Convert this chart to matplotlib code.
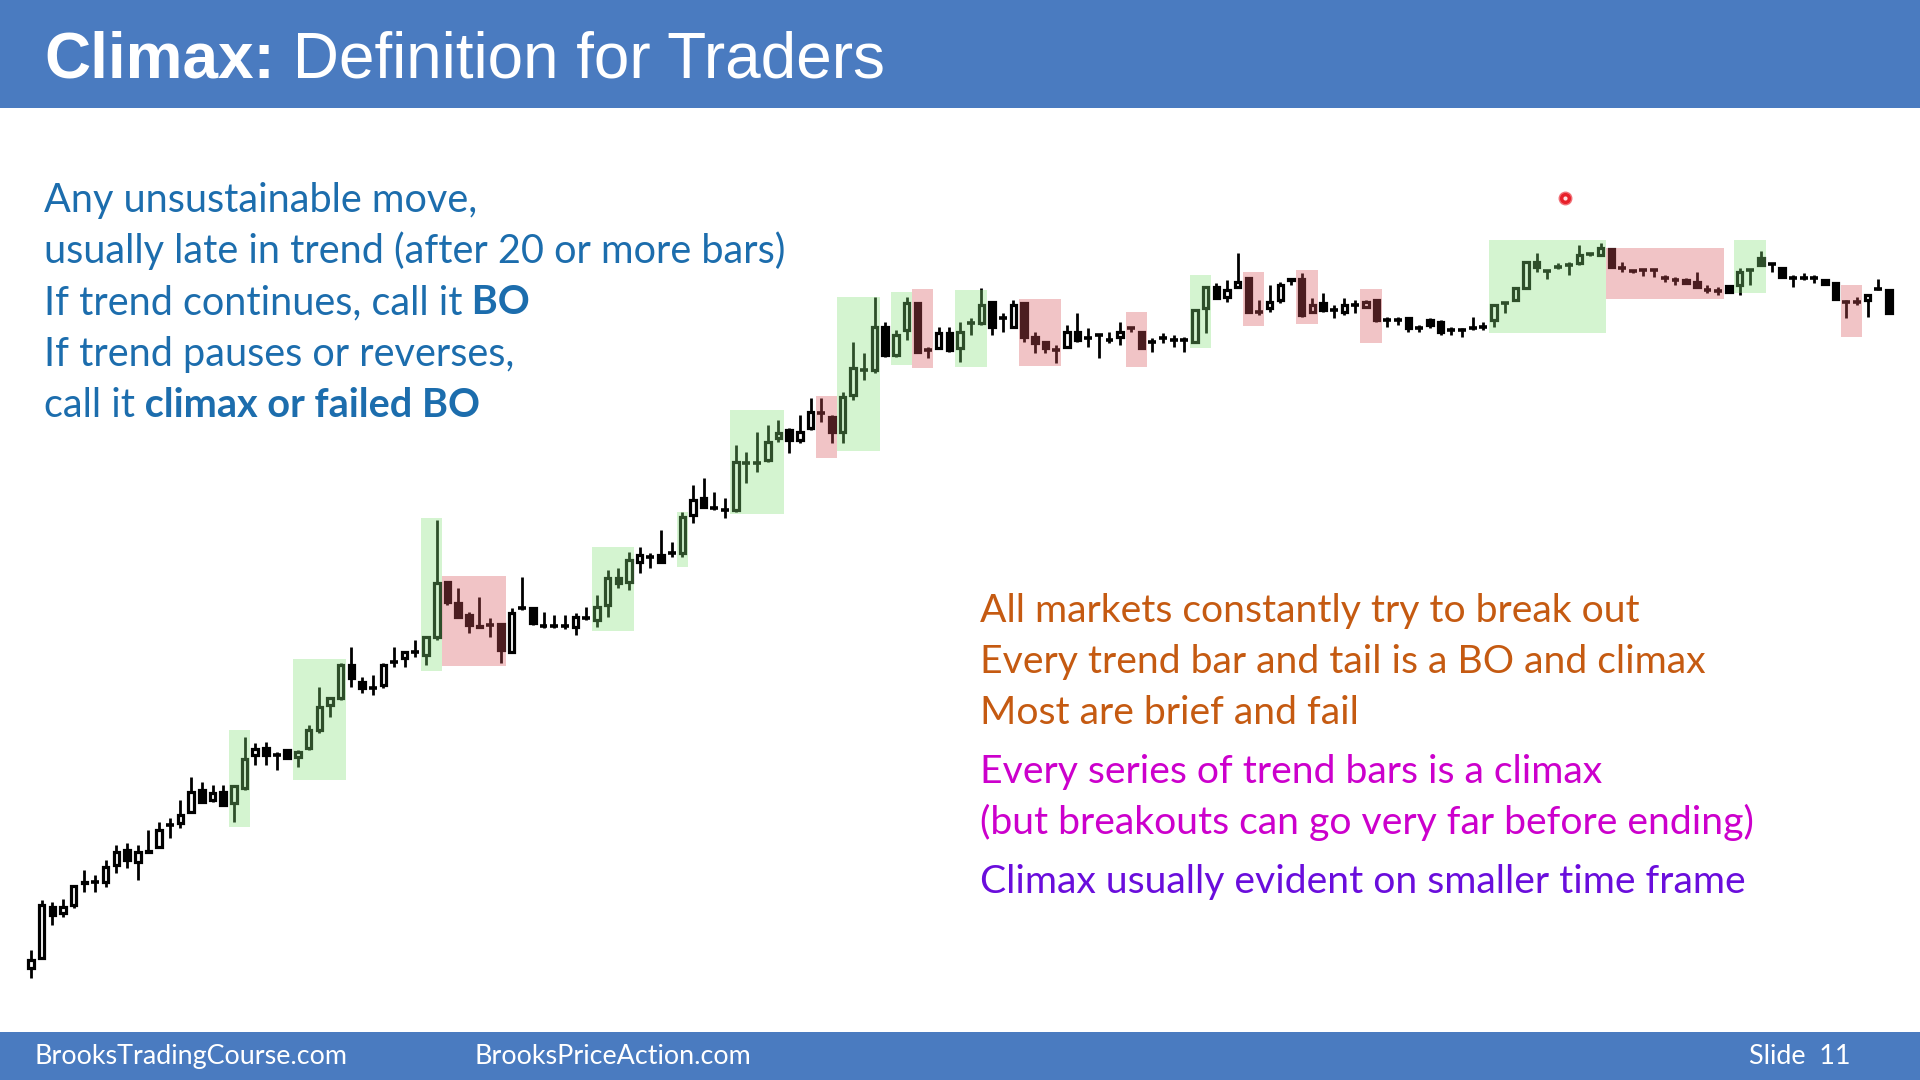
import numpy as np
import matplotlib.pyplot as plt
from matplotlib.patches import Rectangle

# OHLC values (one entry per bar, left to right)
opens = [32, 42, 93, 87, 95, 117, 118, 118, 135, 150,
         138, 148, 153, 175, 177, 188, 210, 200, 208, 197,
         212, 245, 252, 245, 250, 243, 252, 270, 295, 302,
         335, 318, 312, 315, 338, 342, 348, 345, 363, 418,
         397, 385, 374, 375, 376, 348, 392, 392, 374, 374,
         374, 373, 382, 380, 395, 422, 418, 438, 443, 445,
         447, 447, 485, 502, 492, 490, 490, 537, 537, 540,
         562, 570, 560, 572, 587, 583, 568, 605, 630, 630,
         673, 645, 670, 697, 650, 652, 667, 652, 677, 677,
         698, 682, 673, 697, 663, 658, 650, 653, 668, 662,
         665, 660, 663, 672, 668, 658, 662, 660, 660, 658,
         692, 713, 703, 713, 722, 688, 692, 700, 721, 721,
         688, 697, 690, 688, 695, 693, 700, 680, 680, 682,
         672, 680, 678, 670, 670, 672, 673, 680, 697, 700,
         712, 738, 729, 733, 735, 737, 746, 745, 751, 732,
         729, 730, 730, 722, 720, 720, 718, 710, 709, 714,
         715, 730, 742, 736, 732, 722, 722, 722, 720, 717,
         698, 698, 700, 711, 710]
highs = [50, 100, 98, 101, 115, 130, 125, 140, 155, 157,
         155, 170, 178, 182, 200, 223, 218, 215, 215, 215,
         263, 257, 258, 248, 250, 250, 275, 313, 302, 337,
         353, 323, 325, 337, 353, 348, 360, 363, 480, 418,
         412, 388, 403, 382, 376, 392, 423, 392, 388, 385,
         385, 387, 393, 405, 430, 432, 448, 453, 447, 470,
         458, 488, 515, 522, 508, 502, 555, 548, 568, 575,
         580, 572, 585, 602, 602, 585, 608, 658, 647, 703,
         678, 670, 703, 697, 653, 673, 673, 678, 682, 712,
         698, 687, 700, 697, 668, 658, 655, 675, 687, 672,
         665, 668, 678, 673, 668, 662, 667, 665, 663, 690,
         713, 717, 720, 747, 722, 700, 715, 718, 721, 727,
         702, 707, 695, 702, 700, 700, 700, 683, 683, 683,
         675, 682, 680, 673, 672, 683, 678, 695, 697, 713,
         738, 747, 729, 737, 738, 755, 747, 757, 751, 738,
         730, 730, 730, 725, 723, 722, 728, 715, 713, 714,
         732, 731, 749, 737, 732, 725, 727, 725, 721, 718,
         700, 703, 705, 721, 710]
lows = [22, 42, 75, 83, 92, 108, 108, 113, 127, 132,
        120, 148, 153, 162, 172, 188, 198, 198, 195, 178,
        210, 235, 235, 230, 242, 233, 250, 267, 283, 300,
        313, 307, 305, 312, 333, 333, 343, 335, 360, 395,
        383, 367, 372, 363, 337, 347, 390, 375, 372, 372,
        371, 365, 380, 373, 383, 412, 410, 427, 432, 438,
        443, 443, 477, 492, 490, 482, 488, 517, 528, 538,
        558, 547, 557, 570, 578, 557, 557, 600, 620, 627,
        643, 643, 660, 648, 642, 652, 648, 638, 665, 675,
        665, 668, 672, 658, 647, 647, 637, 652, 658, 653,
        642, 657, 655, 668, 652, 648, 657, 653, 648, 657,
        667, 702, 698, 712, 688, 685, 688, 697, 715, 683,
        687, 688, 682, 685, 687, 692, 678, 673, 675, 668,
        668, 672, 665, 665, 663, 670, 670, 673, 687, 700,
        712, 728, 721, 731, 725, 735, 744, 744, 733, 728,
        727, 724, 723, 718, 715, 716, 712, 707, 705, 707,
        705, 715, 735, 728, 723, 713, 720, 717, 715, 701,
        682, 695, 683, 710, 687]
closes = [40, 95, 85, 93, 114, 118, 118, 133, 148, 140,
          148, 149, 170, 175, 185, 208, 198, 207, 195, 214,
          241, 251, 245, 245, 242, 248, 270, 293, 302, 335,
          322, 312, 312, 335, 338, 348, 348, 363, 417, 398,
          383, 375, 373, 375, 350, 387, 392, 377, 374, 374,
          374, 383, 382, 393, 422, 417, 440, 445, 443, 438,
          447, 483, 500, 493, 492, 490, 538, 537, 537, 558,
          567, 560, 568, 588, 587, 568, 603, 632, 630, 673,
          645, 665, 697, 648, 650, 667, 650, 668, 677, 695,
          673, 682, 695, 663, 657, 652, 650, 668, 660, 662,
          665, 660, 668, 672, 652, 658, 662, 660, 660, 690,
          713, 702, 710, 718, 688, 688, 698, 715, 720, 685,
          695, 690, 690, 695, 695, 698, 680, 680, 680, 672,
          672, 675, 668, 670, 670, 672, 673, 695, 697, 712,
          738, 733, 729, 733, 735, 745, 746, 752, 733, 732,
          729, 730, 730, 722, 720, 717, 713, 710, 709, 708,
          728, 730, 735, 736, 723, 722, 722, 722, 716, 701,
          698, 698, 705, 711, 687]

# highlighted bar groups: (first bar, last bar, bottom price, top price)
green_zones = [(20, 21, 173, 270), (26, 30, 220, 341), (38, 39, 329, 482),
               (54, 57, 369, 453), (62, 62, 433, 488), (67, 71, 486, 590),
               (77, 80, 549, 703), (82, 83, 635, 708), (88, 90, 633, 710),
               (110, 111, 652, 725), (138, 148, 667, 760), (161, 163, 707, 760)]
red_zones = [(40, 45, 334, 424), (75, 76, 542, 604), (84, 85, 632, 711),
             (94, 97, 634, 701), (104, 105, 633, 688), (115, 116, 674, 728),
             (120, 121, 676, 730), (126, 127, 657, 711), (149, 159, 701, 752),
             (171, 172, 663, 715)]

title_bold = "Climax:"
title_rest = " Definition for Traders"
left_lines = [("Any unsustainable move,", ""),
              ("usually late in trend (after 20 or more bars)", ""),
              ("If trend continues, call it", " BO"),
              ("If trend pauses or reverses,", ""),
              ("call it", " climax or failed BO")]
right_lines = [("All markets constantly try to break out", "#C55A11"),
               ("Every trend bar and tail is a BO and climax", "#C55A11"),
               ("Most are brief and fail", "#C55A11"),
               ("Every series of trend bars is a climax", "#CC00CC"),
               ("(but breakouts can go very far before ending)", "#CC00CC"),
               ("Climax usually evident on smaller time frame", "#6A0DDC")]
footer_left = ["BrooksTradingCourse.com", "BrooksPriceAction.com"]
footer_right = "Slide  11"

BAR_BLUE = "#4A7BC0"
TEXT_BLUE = "#1C6DAD"
BODY_FONT = "Lato"

fig = plt.figure(figsize=(19.2, 10.8), dpi=100)
fig.patch.set_facecolor("white")

# title and footer bands, kept below the chart axes
fig.patches.append(Rectangle((0, 0.9), 1, 0.1, transform=fig.transFigure,
                             facecolor=BAR_BLUE, edgecolor="none", zorder=-2))
fig.patches.append(Rectangle((0, 0), 1, 0.0444, transform=fig.transFigure,
                             facecolor=BAR_BLUE, edgecolor="none", zorder=-2))

# chart axes spans the whole slide, price scale hidden
ax = fig.add_axes([0, 0, 1, 1])
ax.set_xlim(-1.9, 177.9)
ax.set_ylim(-80, 1000)
ax.axis("off")

o = np.array(opens)
h = np.array(highs)
l = np.array(lows)
c = np.array(closes)
idx = np.arange(1, len(o) + 1)

ax.vlines(idx, l, h, color="black", linewidth=2.0, zorder=2)

doji = o == c
bull = (c > o) & ~doji
bear = (c < o) & ~doji
lo = np.minimum(o, c)
hgt = np.abs(c - o)
ax.bar(idx[bull], hgt[bull], bottom=lo[bull], width=0.52, facecolor="white",
       edgecolor="black", linewidth=2.3, zorder=3)
ax.bar(idx[bear], hgt[bear], bottom=lo[bear], width=0.52, facecolor="black",
       edgecolor="black", linewidth=2.3, zorder=3)
ax.hlines(o[doji], idx[doji] - 0.37, idx[doji] + 0.37, color="black",
          linewidth=2.6, zorder=3)

# translucent highlight boxes over the bars
for first, last, bottom, top in green_zones:
    ax.add_patch(Rectangle((first - 0.5, bottom), last - first + 1, top - bottom,
                           facecolor="#84E279", alpha=0.35, edgecolor="none", zorder=4))
for first, last, bottom, top in red_zones:
    ax.add_patch(Rectangle((first - 0.5, bottom), last - first + 1, top - bottom,
                           facecolor="#D8565C", alpha=0.35, edgecolor="none", zorder=4))

# laser pointer dot
ax.plot([0.8151], [0.8167], marker="o", markersize=9, markerfacecolor="#E8202A",
        markeredgecolor="#F07078", markeredgewidth=1.0, transform=fig.transFigure,
        zorder=6)
ax.plot([0.8151], [0.8167], marker="o", markersize=3, markerfacecolor="#FFE0E0",
        markeredgecolor="none", transform=fig.transFigure, zorder=7)

t = ax.text(0.0229, 0.928, title_bold, color="white", fontsize=46,
            fontweight="bold", family="Liberation Sans", va="baseline",
            transform=fig.transFigure)
ax.annotate(title_rest, xy=(1, 0), xycoords=t, color="white", fontsize=46,
            family="Liberation Sans", va="bottom", ha="left",
            annotation_clip=False)

# left definition text
y = 0.8036
for plain, bold in left_lines:
    tt = ax.text(0.0229, y, plain, color=TEXT_BLUE, fontsize=28.5,
                 family=BODY_FONT, va="baseline", transform=fig.transFigure)
    if bold:
        ax.annotate(bold, xy=(1, 0), xycoords=tt, color=TEXT_BLUE,
                    fontsize=28.5, family=BODY_FONT, fontweight="bold",
                    va="bottom", ha="left", annotation_clip=False)
    y -= 0.0474

# right side notes
right_base = [0.4241, 0.3769, 0.3296, 0.2752, 0.2280, 0.1731]
for (line, col), yb in zip(right_lines, right_base):
    ax.text(0.5104, yb, line, color=col, fontsize=28.2, family=BODY_FONT,
            va="baseline", transform=fig.transFigure)

ax.text(0.0182, 0.022, footer_left[0], color="white", fontsize=19.4,
        family=BODY_FONT, va="center", transform=fig.transFigure)
ax.text(0.2469, 0.022, footer_left[1], color="white", fontsize=19.4,
        family=BODY_FONT, va="center", transform=fig.transFigure)
ax.text(0.964, 0.022, footer_right, color="white", fontsize=19.4,
        family=BODY_FONT, va="center", ha="right", transform=fig.transFigure)

fig.savefig("out.png", dpi=100, facecolor="white")
